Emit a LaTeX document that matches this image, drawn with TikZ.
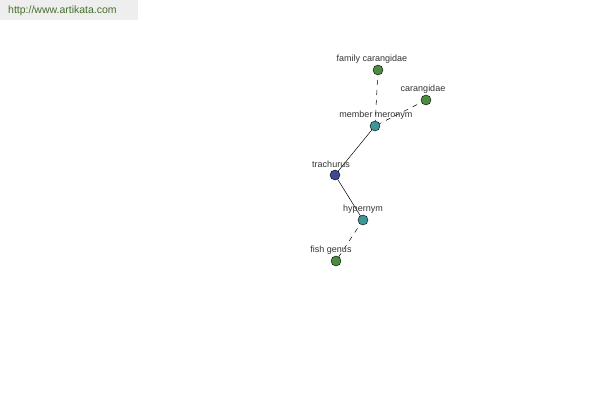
\documentclass[tikz,border=0pt]{standalone}
\usepackage{fontspec}
\setmainfont{Liberation Sans}
\usepackage{tikz}
\definecolor{leafgreen}{RGB}{76,140,64}
\definecolor{relteal}{RGB}{64,150,150}
\definecolor{wordblue}{RGB}{64,72,150}
\definecolor{urlgreen}{RGB}{70,110,40}
\definecolor{bannergray}{RGB}{238,238,238}
\tikzset{
  dot/.style={circle,draw=black,line width=0.4pt,minimum size=10pt,inner sep=0pt},
  lbl/.style={font=\fontsize{9}{10}\selectfont,text=black!80,inner sep=0pt},
  rel/.style={line width=0.5pt},
  reldash/.style={line width=0.5pt,dash pattern=on 5pt off 5pt}
}
\def\leafnode{\node[dot,fill=leafgreen]}
\def\relnode{\node[dot,fill=relteal]}
\def\wordnode{\node[dot,fill=wordblue]}
\begin{document}
\begin{tikzpicture}[x=1pt,y=-1pt]
\useasboundingbox (0,0) rectangle (600,400);
\fill[bannergray] (0,0) rectangle (138,20);
\node[anchor=west,font=\fontsize{10.5}{12}\selectfont,text=urlgreen,inner sep=0pt] (url) at (8,11) {http://www.artikata.com};
% edges first, nodes on top
\coordinate (fc) at (378,70);
\coordinate (ca) at (426,100);
\coordinate (mm) at (375,126);
\coordinate (tr) at (335,175);
\coordinate (hy) at (363,220);
\coordinate (fg) at (336,261);
\draw[reldash] (fc) -- (mm);
\draw[reldash] (ca) -- (mm);
\draw[rel] (mm) -- (tr);
\draw[rel] (tr) -- (hy);
\draw[reldash] (hy) -- (fg);
\leafnode (famcar) at (fc) {};
\leafnode (carang) at (ca) {};
\relnode (memmer) at (mm) {};
\wordnode (trach) at (tr) {};
\relnode (hyper) at (hy) {};
\leafnode (fishgen) at (fg) {};
\node[lbl] (famcarlbl) at (372,59) {family carangidae};
\node[lbl] (caranglbl) at (423,89) {carangidae};
\node[lbl] (memmerlbl) at (376,115) {member meronym};
\node[lbl] (trachlbl) at (331,164) {trachurus};
\node[lbl] (hyperlbl) at (363,209) {hypernym};
\node[lbl] (fishgenlbl) at (331,250) {fish genus};
\end{tikzpicture}
\end{document}
